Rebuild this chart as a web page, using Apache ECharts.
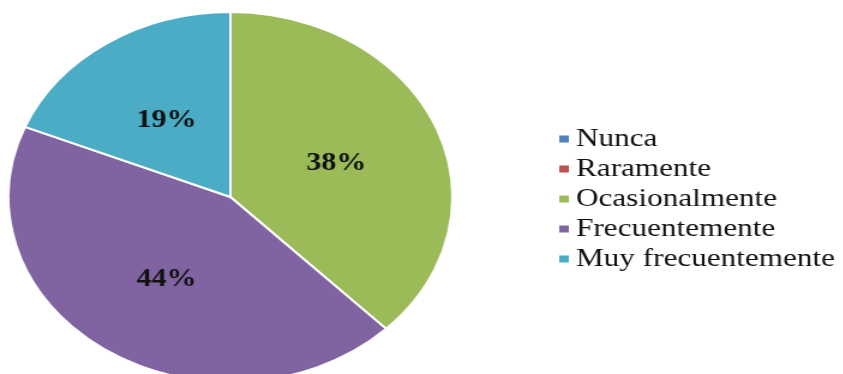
<!DOCTYPE html>
<html>
<head>
<meta charset="utf-8">
<title>Frecuencia</title>
<script src="https://cdn.jsdelivr.net/npm/echarts@6/dist/echarts.min.js"></script>
<style>
  html, body { margin: 0; padding: 0; background: #fff; overflow: hidden; }
  /* the chart is drawn on a narrower canvas and widened horizontally */
  #chart { width: 703px; height: 374px; transform: scaleX(1.2); transform-origin: 0 0; }
</style>
</head>
<body>
<div id="chart"></div>
<script>
const categories = ['Nunca', 'Raramente', 'Ocasionalmente', 'Frecuentemente', 'Muy frecuentemente'];
const percentages = [0, 0, 38, 44, 19];
const colors = ['#4F81BD', '#C0504D', '#9BBB59', '#8064A2', '#4BACC6'];

const SERIF = '"Liberation Serif", "DejaVu Serif", serif';

const chart = echarts.init(document.getElementById('chart'));

chart.setOption({
  animation: false,
  color: colors,
  textStyle: { fontFamily: SERIF },
  legend: {
    orient: 'vertical',
    left: 464,
    top: 124,
    padding: 0,
    icon: 'rect',
    itemWidth: 10,
    itemHeight: 9,
    itemGap: 0,
    selectedMode: false,
    data: categories,
    textStyle: {
      fontFamily: SERIF,
      fontSize: 26,
      lineHeight: 30,
      color: '#111'
    }
  },
  series: [{
    type: 'pie',
    center: [192, 197],
    radius: 185,
    startAngle: 90,
    clockwise: true,
    itemStyle: { borderColor: '#fff', borderWidth: 2 },
    label: {
      show: true,
      position: 'inside',
      formatter: p => (p.value > 0 ? p.value + '%' : ''),
      fontFamily: SERIF,
      fontWeight: 'bold',
      fontSize: 25,
      color: '#111',
      offset: [0, 3]
    },
    labelLine: { show: false },
    emphasis: { disabled: true },
    data: categories.map((name, i) => ({ name: name, value: percentages[i] }))
  }]
});
</script>
</body>
</html>
